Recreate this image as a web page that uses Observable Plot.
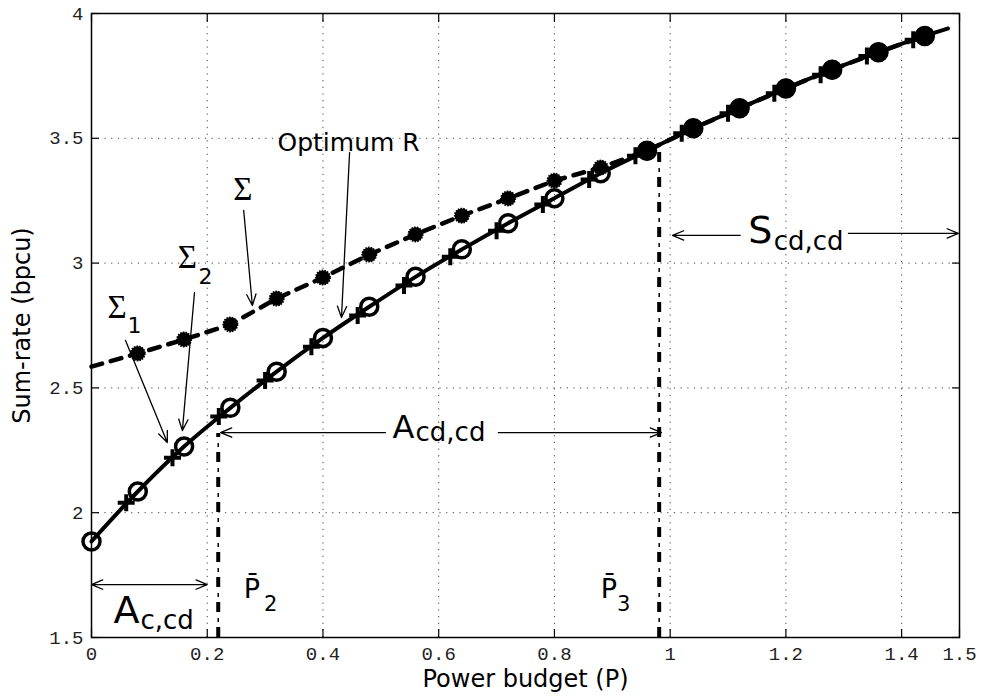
<!DOCTYPE html>
<html><head><meta charset="utf-8">
<script src="https://cdn.jsdelivr.net/npm/d3@7"></script>
<script src="https://cdn.jsdelivr.net/npm/@observablehq/plot@0.6"></script>
<style>body{margin:0;background:#fff}#chart svg{display:block}</style>
</head><body><div id="chart"></div>
<script>
// ---- data ----
const xTicks = [0, 0.2, 0.4, 0.6, 0.8, 1, 1.2, 1.4, 1.5];
const xTickLabels = ["0", "0.2", "0.4", "0.6", "0.8", "1", "1.2", "1.4", "1.5"];
const yTicks = [1.5, 2, 2.5, 3, 3.5, 4];
const yTickLabels = ["1.5", "2", "2.5", "3", "3.5", "4"];

// Optimum R (solid line, circle markers)
const optX = [0, 0.08, 0.16, 0.24, 0.32, 0.40, 0.48, 0.56, 0.64, 0.72, 0.80, 0.88, 0.96, 1.04, 1.12, 1.20, 1.28, 1.36, 1.44, 1.48];
const optY = [1.885, 2.085, 2.265, 2.42, 2.565, 2.70, 2.825, 2.945, 3.055, 3.16, 3.26, 3.36, 3.45, 3.54, 3.62, 3.70, 3.775, 3.845, 3.91, 3.94];
const optMarked = 19; // first 19 points carry a circle marker

// plus markers lying on the optimum curve
const plusX = [0.06, 0.14, 0.22, 0.30, 0.38, 0.46, 0.54, 0.62, 0.70, 0.78, 0.86, 0.94, 1.02, 1.10, 1.18, 1.26, 1.34, 1.42];
const plusY = [2.04, 2.22, 2.385, 2.53, 2.665, 2.79, 2.91, 3.025, 3.13, 3.235, 3.335, 3.43, 3.52, 3.60, 3.68, 3.755, 3.83, 3.895];

// Sigma (dashed line, filled markers); from 0.96 on it coincides with the optimum
const sigX = [0, 0.08, 0.16, 0.24, 0.32, 0.40, 0.48, 0.56, 0.64, 0.72, 0.80, 0.88, 0.96, 1.04, 1.12, 1.20, 1.28, 1.36, 1.44];
const sigY = [2.585, 2.638, 2.694, 2.754, 2.858, 2.942, 3.034, 3.115, 3.19, 3.259, 3.33, 3.383, 3.45, 3.54, 3.62, 3.70, 3.775, 3.845, 3.91];
const mergeX = 0.96;

// thresholds P2, P3
const thrX = [0.219, 0.981];
const thrTop = [2.317, 3.443];

// annotation arrows (data units)
const arrowsList = [
  {x1: 0.1, y1: 1.712, x2: 0.0, y2: 1.712},
  {x1: 0.1, y1: 1.712, x2: 0.2, y2: 1.712},
  {x1: 0.508, y1: 2.321, x2: 0.223, y2: 2.321},
  {x1: 0.703, y1: 2.321, x2: 0.985, y2: 2.321},
  {x1: 1.121, y1: 3.111, x2: 1.004, y2: 3.111},
  {x1: 1.308, y1: 3.119, x2: 1.498, y2: 3.119},
  {x1: 0.263, y1: 3.211, x2: 0.278, y2: 2.830},
  {x1: 0.178, y1: 2.882, x2: 0.157, y2: 2.329},
  {x1: 0.0588, y1: 2.690, x2: 0.131, y2: 2.281},
  {x1: 0.446, y1: 3.443, x2: 0.432, y2: 2.782}
];

const sansLabels = [
  {t: "A", x: 0.038, y: 1.560, s: 38},
  {t: "c,cd", x: 0.0847, y: 1.536, s: 26},
  {t: "A", x: 0.520, y: 2.301, s: 32},
  {t: "cd,cd", x: 0.560, y: 2.289, s: 26},
  {t: "S", x: 1.135, y: 3.079, s: 38},
  {t: "cd,cd", x: 1.179, y: 3.051, s: 26},
  {t: "Optimum R", x: 0.3214, y: 3.451, s: 25},
  {t: "P\u0304", x: 0.263, y: 1.660, s: 27},
  {t: "2", x: 0.298, y: 1.608, s: 21},
  {t: "P\u0304", x: 0.880, y: 1.660, s: 27},
  {t: "3", x: 0.908, y: 1.608, s: 21},
  {t: "1", x: 0.0622, y: 2.718, s: 22},
  {t: "2", x: 0.185, y: 2.918, s: 22}
];
const serifLabels = [
  {t: "Σ", x: 0.245, y: 3.251, s: 33},
  {t: "Σ", x: 0.149, y: 2.982, s: 33},
  {t: "Σ", x: 0.0276, y: 2.782, s: 33}
];

const xTitle = "Power budget (P)";
const yTitle = "Sum-rate (bpcu)";

// ---- tables ----
const optLine = optX.map((x, i) => ({x, y: optY[i]}));
const optDots = optLine.slice(0, optMarked);
const plusPts = plusX.map((x, i) => ({x, y: plusY[i]}));
const sigLine = sigX.map((x, i) => ({x, y: sigY[i]}));
const sigDotsSmall = sigLine.filter(d => d.x > 0 && d.x < mergeX);
const sigDotsMerged = sigLine.filter(d => d.x >= mergeX);
const thr = thrX.map((x, i) => ({x, y1: 1.5, y2: thrTop[i]}));

const plusSymbol = {
  draw(ctx, size) {
    const r = Math.sqrt(size / Math.PI);
    ctx.moveTo(-r, 0); ctx.lineTo(r, 0);
    ctx.moveTo(0, -r); ctx.lineTo(0, r);
  }
};

const fmtX = d => xTickLabels[xTicks.indexOf(d)];
const fmtY = d => yTickLabels[yTicks.indexOf(d)];
const sans = "DejaVu Sans";

const chart = Plot.plot({
  width: 982, height: 698,
  marginLeft: 91, marginRight: 23, marginTop: 13, marginBottom: 61,
  x: {domain: [0, 1.5]},
  y: {domain: [1.5, 4]},
  style: {background: "white", color: "black"},
  marks: [
    Plot.gridX(xTicks, {stroke: "#444", strokeOpacity: 1, strokeDasharray: "1.2,5.5"}),
    Plot.gridY(yTicks, {stroke: "#444", strokeOpacity: 1, strokeDasharray: "1.2,5.5"}),
    Plot.frame({stroke: "black", strokeWidth: 1.5}),
    Plot.axisX(xTicks, {anchor: "bottom", tickSize: 0, tickPadding: 9, tickFormat: fmtX, fontFamily: "Liberation Mono", fontSize: 19, color: "#222", label: null}),
    Plot.axisY(yTicks, {anchor: "left", tickSize: 0, tickPadding: 8, tickFormat: fmtY, fontFamily: "Liberation Mono", fontSize: 19, color: "#222", label: null}),
    Plot.axisX(xTicks, {anchor: "bottom", tickSize: 8, dy: -8, tickFormat: () => "", label: null, strokeWidth: 1.2}),
    Plot.axisX(xTicks, {anchor: "top", tickSize: 8, dy: 8, tickFormat: () => "", label: null, strokeWidth: 1.2}),
    Plot.axisY(yTicks, {anchor: "left", tickSize: 8, dx: 8, tickFormat: () => "", label: null, strokeWidth: 1.2}),
    Plot.axisY(yTicks, {anchor: "right", tickSize: 8, dx: -8, tickFormat: () => "", label: null, strokeWidth: 1.2}),
    // threshold dash-dot lines
    Plot.ruleX(thr, {x: "x", y1: "y1", y2: "y2", stroke: "black", strokeWidth: 4, strokeDasharray: "10,15"}),
    Plot.ruleX(thr, {x: "x", y1: "y1", y2: "y2", stroke: "black", strokeWidth: 1.5, strokeDasharray: "0,15,4,6"}),
    // Sigma dashed
    Plot.line(sigLine, {x: "x", y: "y", stroke: "black", strokeWidth: 4.5, strokeDasharray: "11,9"}),
    // optimum
    Plot.line(optLine, {x: "x", y: "y", stroke: "black", strokeWidth: 4, curve: "monotone-x"}),
    Plot.dot(optDots, {x: "x", y: "y", r: 8.5, stroke: "black", strokeWidth: 3.5, fill: "none"}),
    Plot.dot(plusPts, {x: "x", y: "y", symbol: plusSymbol, r: 8.5, stroke: "black", strokeWidth: 4, fill: "none"}),
    Plot.dot(sigDotsSmall, {x: "x", y: "y", r: 7.2, fill: "black", stroke: "black", strokeWidth: 1.6, strokeDasharray: "1.5,1.2"}),
    Plot.dot(sigDotsMerged, {x: "x", y: "y", r: 9, fill: "black", stroke: "black", strokeWidth: 1.6}),
    // annotations
    Plot.arrow(arrowsList, {x1: "x1", y1: "y1", x2: "x2", y2: "y2", stroke: "black", strokeWidth: 1.3, headLength: 14, headAngle: 45}),
    Plot.text(sansLabels, {x: "x", y: "y", text: "t", fontSize: "s", fontFamily: sans, textAnchor: "start", lineAnchor: "bottom", fill: "black"}),
    Plot.text(serifLabels, {x: "x", y: "y", text: "t", fontSize: "s", fontFamily: "Liberation Serif", textAnchor: "start", lineAnchor: "bottom", fill: "black"}),
    Plot.text([xTitle], {text: d => d, frameAnchor: "bottom", dy: 42, lineAnchor: "middle", fontFamily: sans, fontSize: 24, fill: "black"}),
    Plot.text([yTitle], {text: d => d, frameAnchor: "left", dx: -69, rotate: -90, textAnchor: "middle", lineAnchor: "middle", fontFamily: sans, fontSize: 24, fill: "black"})
  ]
});
document.getElementById("chart").appendChild(chart);
</script>
</body></html>
